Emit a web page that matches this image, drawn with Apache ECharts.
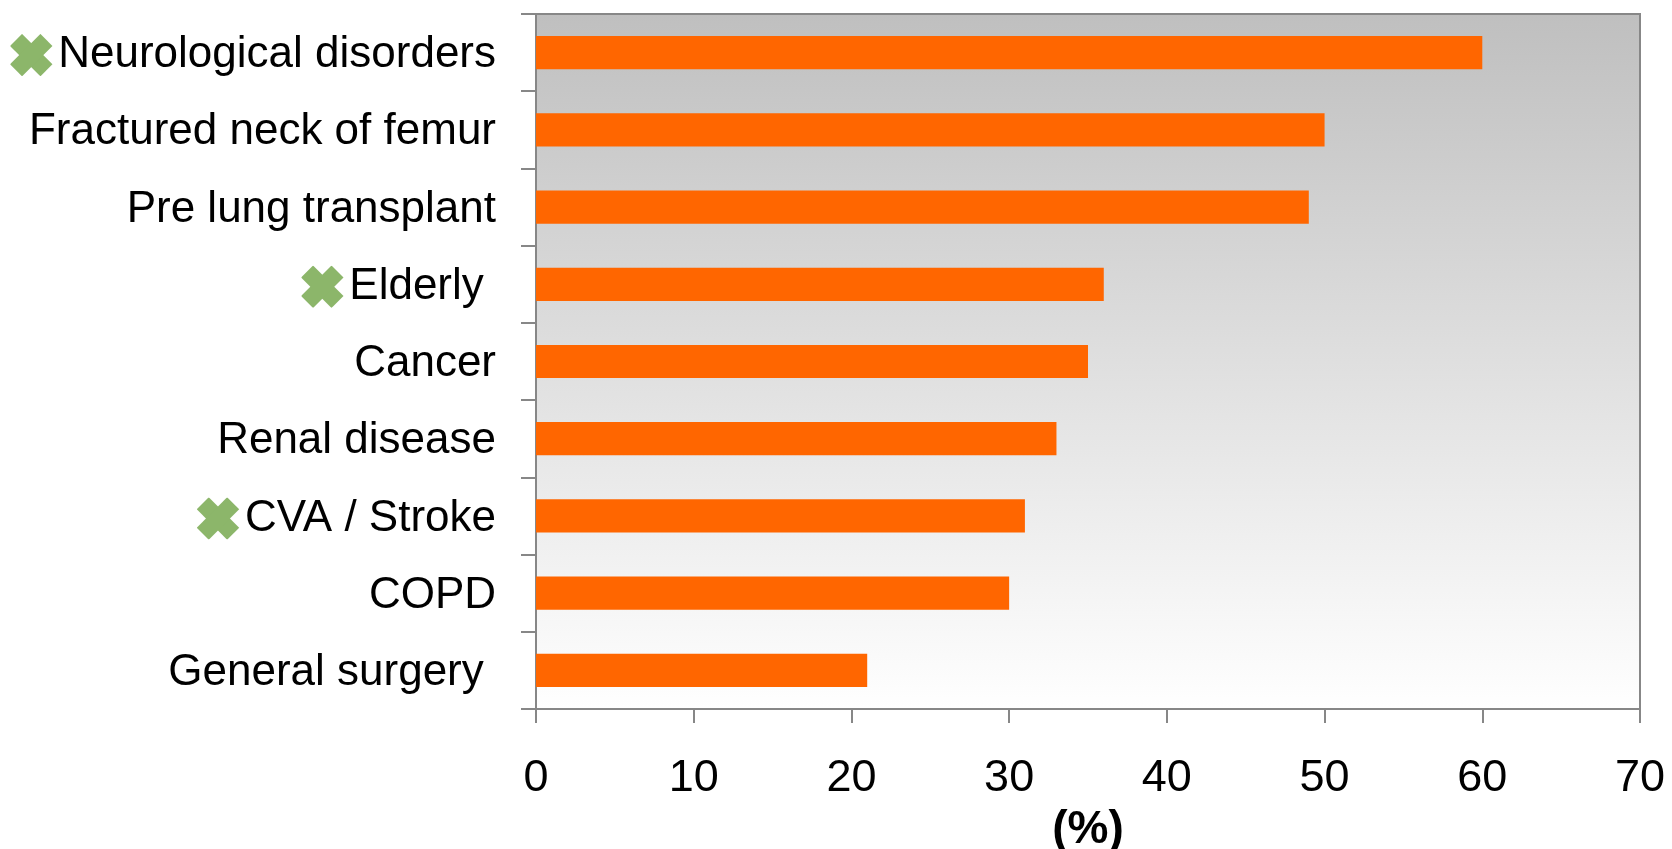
<!DOCTYPE html>
<html>
<head>
<meta charset="utf-8">
<title>Risk by patient group</title>
<script src="https://cdn.jsdelivr.net/npm/echarts@6/dist/echarts.min.js"></script>
<style>
  html, body { margin: 0; padding: 0; background: #ffffff; }
  #chart { width: 1672px; height: 849px; }
</style>
</head>
<body>
<div id="chart"></div>
<script>
// Patient groups, top to bottom
const categories = [
  'Neurological disorders',
  'Fractured neck of femur',
  'Pre lung transplant',
  'Elderly ',
  'Cancer',
  'Renal disease',
  'CVA / Stroke',
  'COPD',
  'General surgery '
];

// Percentage for each group
const percentValues = [60, 50, 49, 36, 35, 33, 31, 30, 21];

// Groups flagged with a green cross
const markedCategories = ['Neurological disorders', 'Elderly ', 'CVA / Stroke'];

// Value axis ticks
const xTicks = [0, 10, 20, 30, 40, 50, 60, 70];

const FONT = "'Liberation Sans', Arial, Helvetica, sans-serif";
const AXIS_GREY = '#878787';
const MARK_GREEN = '#8cb66a';

// Heavy green cross used as an inline label icon
const crossSvg =
  "<svg xmlns='http://www.w3.org/2000/svg' width='48' height='42' viewBox='0 0 48 42'>" +
  "<g fill='" + MARK_GREEN + "' transform='translate(21 21) rotate(45)'>" +
  "<rect x='-21.5' y='-8.5' width='43' height='17'/>" +
  "<rect x='-8.5' y='-21.5' width='17' height='43'/>" +
  "</g></svg>";
const crossImage = 'data:image/svg+xml;charset=utf-8,' + encodeURIComponent(crossSvg);

const chart = echarts.init(document.getElementById('chart'), null, { renderer: 'canvas' });

const option = {
  animation: false,
  backgroundColor: '#ffffff',
  grid: {
    left: 536,
    right: 32,
    top: 14,
    bottom: 140,
    outerBoundsMode: 'none',
    containLabel: false,
    show: true,
    borderColor: AXIS_GREY,
    borderWidth: 2,
    backgroundColor: new echarts.graphic.LinearGradient(0, 0, 0, 1, [
      { offset: 0, color: '#bfbfbf' },
      { offset: 1, color: '#ffffff' }
    ])
  },
  xAxis: {
    type: 'value',
    min: xTicks[0],
    max: xTicks[xTicks.length - 1],
    interval: xTicks[1] - xTicks[0],
    name: '(%)',
    nameLocation: 'middle',
    nameGap: 98,
    nameTextStyle: {
      fontFamily: FONT,
      fontSize: 46,
      fontWeight: 'bold',
      color: '#000000'
    },
    axisLine: { show: true, lineStyle: { color: AXIS_GREY, width: 2 } },
    axisTick: { show: true, length: 14, lineStyle: { color: AXIS_GREY, width: 2 } },
    splitLine: { show: false },
    axisLabel: {
      margin: 47,
      fontFamily: FONT,
      fontSize: 45,
      color: '#000000'
    }
  },
  yAxis: {
    type: 'category',
    inverse: true,
    data: categories,
    axisLine: { show: true, lineStyle: { color: AXIS_GREY, width: 2 } },
    axisTick: { show: true, length: 15, alignWithLabel: false, lineStyle: { color: AXIS_GREY, width: 2 } },
    splitLine: { show: false },
    axisLabel: {
      margin: 40,
      interval: 0,
      padding: [5, 0, 0, 0],
      fontFamily: FONT,
      fontSize: 44,
      color: '#000000',
      formatter: function (value) {
        if (markedCategories.indexOf(value) >= 0) {
          return '{m|}{t|' + value + '}';
        }
        return '{t|' + value + '}';
      },
      rich: {
        m: {
          width: 48,
          height: 42,
          backgroundColor: { image: crossImage }
        },
        t: {
          fontFamily: FONT,
          fontSize: 44,
          color: '#000000'
        }
      }
    }
  },
  series: [{
    type: 'bar',
    data: percentValues,
    barWidth: '43%',
    itemStyle: { color: '#ff6600' },
    silent: true
  }]
};

chart.setOption(option);
</script>
</body>
</html>
